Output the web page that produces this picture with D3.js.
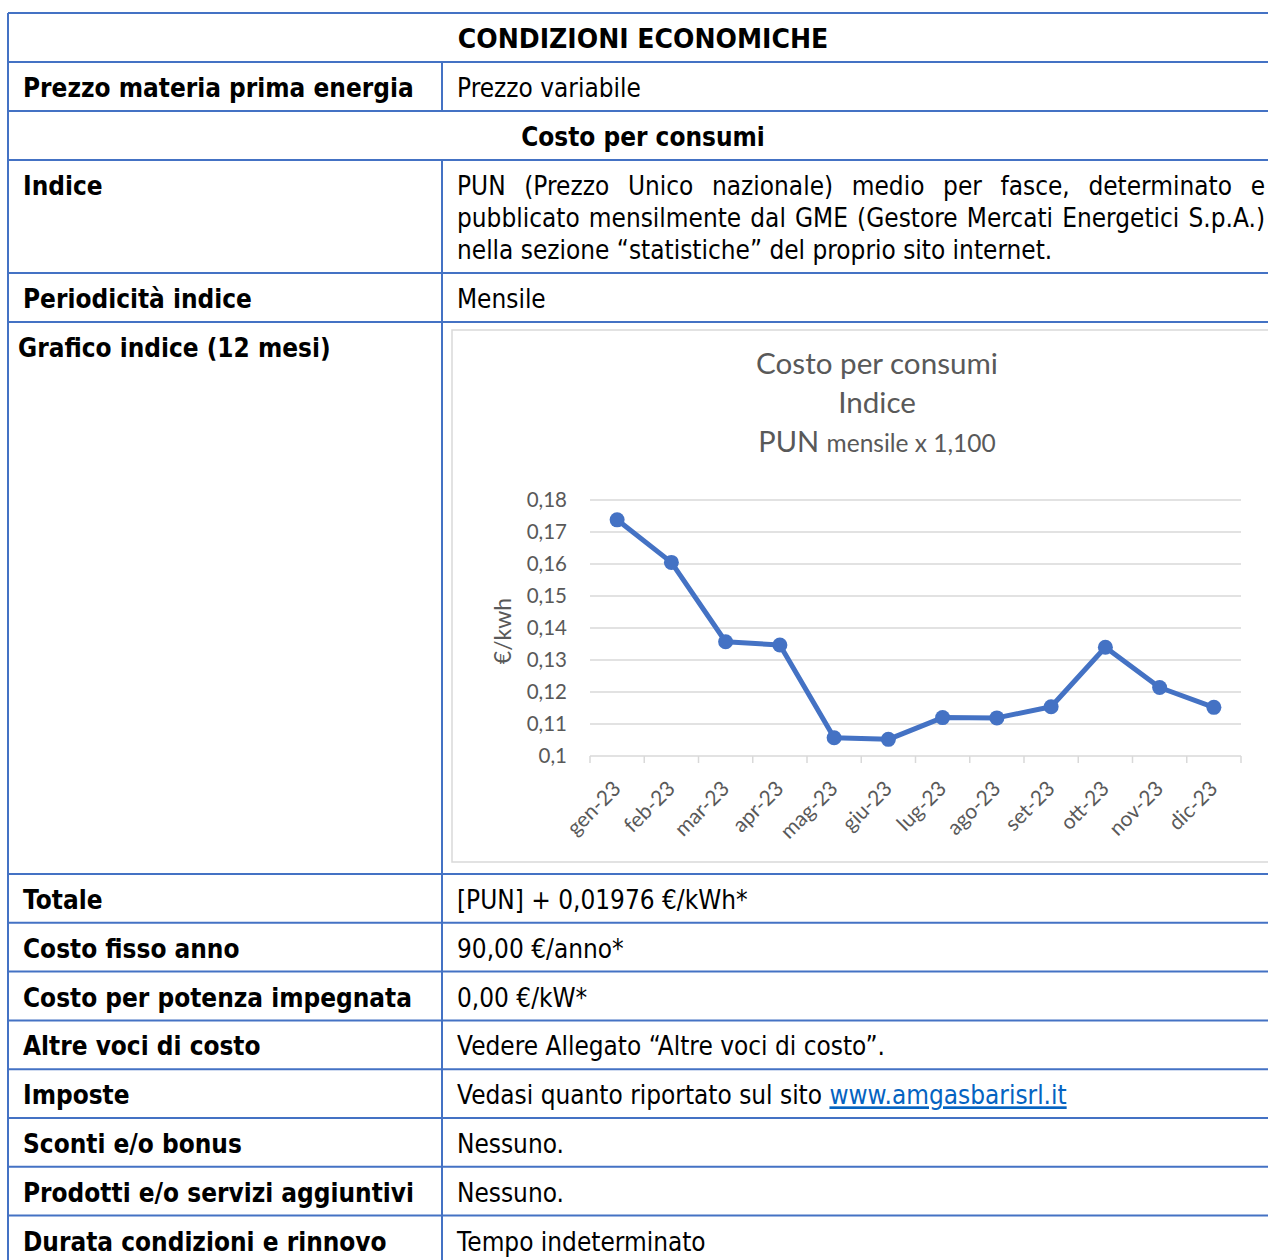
<!DOCTYPE html>
<html>
<head>
<meta charset="utf-8">
<script src="https://cdn.jsdelivr.net/npm/d3@7"></script>
<style>
  body { margin: 0; background: #fff; }
  svg text { font-family: "DejaVu Sans", Verdana, sans-serif; }
  .chart text { font-family: Lato, "Open Sans", sans-serif; fill: #595959; }
</style>
</head>
<body>
<svg class="viz"></svg>
<script>
var width = 1268,
  height = 1260;

// chart data (PUN mensile x 1,100, €/kwh)
var months = ["gen-23", "feb-23", "mar-23", "apr-23", "mag-23", "giu-23",
  "lug-23", "ago-23", "set-23", "ott-23", "nov-23", "dic-23"];
var pun = [0.1738, 0.1605, 0.1357, 0.1347, 0.1057, 0.1052,
  0.1120, 0.1119, 0.1154, 0.1340, 0.1214, 0.1152];
var y_ticks = [0.1, 0.11, 0.12, 0.13, 0.14, 0.15, 0.16, 0.17, 0.18];

// table text
var left_labels = ["Prezzo materia prima energia", "Indice", "Periodicità indice",
  "Grafico indice (12 mesi)", "Totale", "Costo fisso anno", "Costo per potenza impegnata",
  "Altre voci di costo", "Imposte", "Sconti e/o bonus", "Prodotti e/o servizi aggiuntivi",
  "Durata condizioni e rinnovo"];
var right_values = ["Prezzo variabile", null, "Mensile", null, "[PUN] + 0,01976 €/kWh*",
  "90,00 €/anno*", "0,00 €/kW*", "Vedere Allegato “Altre voci di costo”.", null,
  "Nessuno.", "Nessuno.", "Tempo indeterminato"];
var indice_lines = ["PUN (Prezzo Unico nazionale) medio per fasce, determinato e",
  "pubblicato mensilmente dal GME (Gestore Mercati Energetici S.p.A.)",
  "nella sezione “statistiche” del proprio sito internet."];

var blue = "#4472C4",
  sx = 0.875,
  left_x = 8,
  mid_x = 442,
  right_x = 1278;

var svg = d3.select(".viz")
  .attr("width", width)
  .attr("height", height);

// row tops, spanning rows are the title rows
var rows = [
  {top: 13, h: 49, span: "CONDIZIONI ECONOMICHE", wide: 0.945},
  {top: 62, h: 49, label: 0},
  {top: 111, h: 49, span: "Costo per consumi"},
  {top: 160, h: 113, label: 1},
  {top: 273, h: 49, label: 2},
  {top: 322, h: 552, label: 3},
];
var t = 874;
for (let i = 4; i < left_labels.length; i++) {
  rows.push({top: t, h: 48.8, label: i});
  t += 48.8;
}

function table_text(x, y, str, bold, anchor, scale) {
  return svg.append("text")
    .attr("transform", "translate(" + x + "," + y + ") scale(" + (scale || sx) + ",1)")
    .attr("text-anchor", anchor || "start")
    .attr("font-size", 26.67)
    .attr("font-weight", bold ? "bold" : "normal")
    .attr("fill", "#000")
    .text(str);
}

rows.forEach(function(r) {
  var base = r.top + 35;
  if (r.span) {
    table_text((left_x + right_x) / 2, base, r.span, true, "middle", r.wide);
    return;
  }
  var lx = r.label == 3 ? 18 : 23;
  table_text(lx, base, left_labels[r.label], true);
  var v = right_values[r.label];
  if (v) table_text(457, base, v, false);
});

// Indice paragraph, justified
indice_lines.forEach(function(line, i) {
  var txt = table_text(457, 195 + i * 32, line, false);
  if (i < 2) {
    var natural = txt.node().getComputedTextLength();
    var target = (1265 - 457) / sx;
    var spaces = line.split(" ").length - 1;
    txt.attr("word-spacing", (target - natural) / spaces);
  }
});

// Imposte row with link
var imp = table_text(457, rows[10].top + 35, "Vedasi quanto riportato sul sito ", false);
imp.append("tspan")
  .attr("fill", "#0563C1")
  .attr("text-decoration", "underline")
  .text("www.amgasbarisrl.it");

// grid lines of the table
var borders = svg.append("g")
  .attr("stroke", blue)
  .attr("stroke-width", 2);
rows.forEach(function(r) {
  borders.append("line")
    .attr("x1", left_x).attr("x2", right_x)
    .attr("y1", r.top).attr("y2", r.top);
  if (!r.span) {
    borders.append("line")
      .attr("x1", mid_x).attr("x2", mid_x)
      .attr("y1", r.top).attr("y2", r.top + r.h);
  }
});
borders.append("line")
  .attr("x1", left_x).attr("x2", left_x)
  .attr("y1", 13).attr("y2", height);

// ---- chart ----
var chart = svg.append("g").attr("class", "chart");

chart.append("rect")
  .attr("x", 452).attr("y", 330)
  .attr("width", 830).attr("height", 532)
  .attr("fill", "#fff")
  .attr("stroke", "#d9d9d9")
  .attr("stroke-width", 1.5);

var title = chart.append("g").attr("text-anchor", "middle");
title.append("text").attr("x", 877).attr("y", 374)
  .attr("font-size", 29.6).text("Costo per consumi");
title.append("text").attr("x", 877).attr("y", 413)
  .attr("font-size", 29.6).text("Indice");
var t3 = title.append("text").attr("x", 877).attr("y", 452);
t3.append("tspan").attr("font-size", 29).text("PUN ");
t3.append("tspan").attr("font-size", 24.5).text("mensile x 1,100");

var x = d3.scaleBand()
  .domain(months)
  .range([590, 1241]);

var y = d3.scaleLinear()
  .domain([0.1, 0.18])
  .range([756, 500]);

// horizontal gridlines
chart.append("g")
  .selectAll("line")
  .data(y_ticks)
  .enter()
  .append("line")
  .attr("x1", 590).attr("x2", 1241)
  .attr("y1", d => y(d)).attr("y2", d => y(d))
  .attr("stroke", "#d9d9d9")
  .attr("stroke-width", 1.5);

// category tick marks on the x axis
var bounds = months.map(m => x(m)).concat([x.range()[1]]);
chart.append("g")
  .selectAll("line")
  .data(bounds)
  .enter()
  .append("line")
  .attr("x1", d => d).attr("x2", d => d)
  .attr("y1", y(0.1)).attr("y2", y(0.1) + 7)
  .attr("stroke", "#d9d9d9")
  .attr("stroke-width", 1.5);

// y axis labels
var y_axis = chart.append("g")
  .attr("transform", "translate(590,0)")
  .call(d3.axisLeft(y)
    .tickValues(y_ticks)
    .tickSize(0)
    .tickPadding(23)
    .tickFormat(d => d3.format(".2~f")(d).replace(".", ",")));
y_axis.select(".domain").remove();
y_axis.selectAll("text")
  .attr("font-size", 20.5)
  .attr("fill", "#595959")
  .style("font-family", "Lato, 'Open Sans', sans-serif");

// x labels, rotated
chart.append("g")
  .selectAll("text")
  .data(months)
  .enter()
  .append("text")
  .attr("transform", d => "translate(" + (x(d) + x.bandwidth() / 2 + 5) + ",790) rotate(-45)")
  .attr("text-anchor", "end")
  .attr("font-size", 21)
  .text(d => d);

// axis title
chart.append("text")
  .attr("transform", "translate(511,631) rotate(-90)")
  .attr("text-anchor", "middle")
  .attr("font-size", 23)
  .text("€/kwh");

// the series
var line = d3.line()
  .x((d, i) => x(months[i]) + x.bandwidth() / 2)
  .y(d => y(d));

chart.append("path")
  .datum(pun)
  .attr("d", line)
  .attr("fill", "none")
  .attr("stroke", blue)
  .attr("stroke-width", 5)
  .attr("stroke-linejoin", "round");

chart.append("g")
  .selectAll("circle")
  .data(pun)
  .enter()
  .append("circle")
  .attr("cx", (d, i) => x(months[i]) + x.bandwidth() / 2)
  .attr("cy", d => y(d))
  .attr("r", 7.5)
  .attr("fill", blue);
</script>
</body>
</html>
